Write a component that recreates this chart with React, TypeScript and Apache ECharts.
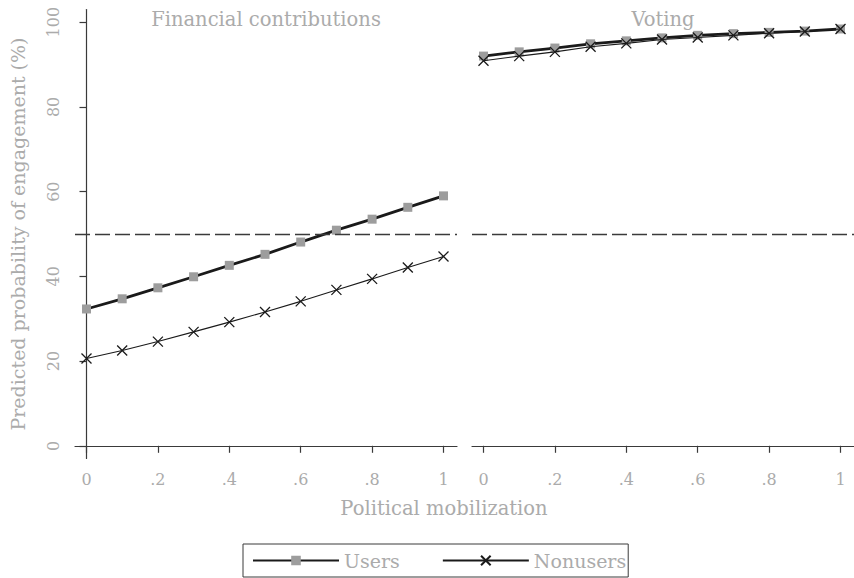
import React, { useEffect, useRef } from "react";
import * as echarts from "echarts";

const xValues = [0, 0.1, 0.2, 0.3, 0.4, 0.5, 0.6, 0.7, 0.8, 0.9, 1];
const finUsers = [32.3, 34.7, 37.3, 39.9, 42.6, 45.2, 48.1, 50.9, 53.5, 56.3, 59.0];
const finNonusers = [20.6, 22.5, 24.6, 26.9, 29.2, 31.6, 34.1, 36.8, 39.4, 42.1, 44.7];
const voteUsers = [92.0, 93.0, 93.9, 94.9, 95.6, 96.3, 96.9, 97.3, 97.6, 97.9, 98.4];
const voteNonusers = [90.9, 92.0, 93.0, 94.2, 95.0, 95.9, 96.4, 96.9, 97.4, 97.8, 98.4];
const yTicks = [0, 20, 40, 60, 80, 100];
const xTicks = [0, 0.2, 0.4, 0.6, 0.8, 1];
const panelTitles = ["Financial contributions", "Voting"];
const seriesNames = ["Users", "Nonusers"];
const threshold = 50;

const FONT = "DejaVu Serif";
const GRAY = "#ababab";
const DARK = "#3a3a3a";
const CROSS = "path://M0,0L10,10M10,0L0,10";

export default function App() {
  const ref = useRef<HTMLDivElement>(null);
  useEffect(() => {
    if (!ref.current) return;
    const chart = echarts.init(ref.current, undefined, { renderer: "svg" });
    const xFmt = (v: number) => (v === 0 ? "0" : v === 1 ? "1" : String(v).replace("0.", "."));
    const mkX = (gi: number) => ({
      type: "value",
      gridIndex: gi,
      min: -0.0322,
      max: 1.0378,
      splitLine: { show: false },
      axisLine: { show: true, lineStyle: { color: DARK, width: 1.2 } },
      axisTick: { show: true, length: 7, customValues: xTicks, lineStyle: { color: DARK, width: 1.2 } },
      axisLabel: {
        customValues: xTicks,
        formatter: xFmt,
        color: GRAY,
        fontFamily: FONT,
        fontSize: 16,
        margin: 13,
      },
    });
    const mkY = (gi: number) => ({
      type: "value",
      gridIndex: gi,
      min: -3,
      max: 103,
      show: gi === 0,
      splitLine: { show: false },
      axisLine: { show: gi === 0, lineStyle: { color: DARK, width: 1.2 } },
      axisTick: { show: gi === 0, length: 7, customValues: yTicks, lineStyle: { color: DARK, width: 1.2 } },
      axisLabel: {
        show: gi === 0,
        customValues: yTicks,
        rotate: 90,
        color: GRAY,
        fontFamily: FONT,
        fontSize: 16,
        margin: 14,
      },
      name: gi === 0 ? "Predicted probability of engagement (%)" : "",
      nameLocation: "middle",
      nameGap: 48,
      nameTextStyle: { color: GRAY, fontFamily: FONT, fontSize: 19 },
    });
    const markLine = {
      silent: true,
      symbol: "none",
      label: { show: false },
      lineStyle: { type: [15, 5], color: DARK, width: 1.3 },
      data: [{ yAxis: threshold }],
    };
    const usersSeries = (gi: number, vals: number[]) => ({
      name: seriesNames[0],
      type: "line",
      xAxisIndex: gi,
      yAxisIndex: gi,
      data: xValues.map((x, i) => [x, vals[i]]),
      symbol: "rect",
      symbolSize: 9,
      showAllSymbol: true,
      lineStyle: { color: "#1a1a1a", width: 2.8 },
      itemStyle: { color: "#9d9d9d", borderWidth: 0 },
      markLine,
      z: 2,
    });
    const nonSeries = (gi: number, vals: number[]) => ({
      name: seriesNames[1],
      type: "line",
      xAxisIndex: gi,
      yAxisIndex: gi,
      data: xValues.map((x, i) => [x, vals[i]]),
      symbol: CROSS,
      symbolSize: 10,
      showAllSymbol: true,
      lineStyle: { color: "#1a1a1a", width: 1.1 },
      itemStyle: { color: "none", borderColor: "#1a1a1a", borderWidth: 1.3 },
      z: 3,
    });
    const titleFont = `19.5px "${FONT}"`;
    chart.setOption({
      animation: false,
      backgroundColor: "#ffffff",
      grid: [
        { left: 75, top: 9.5, width: 382, height: 449 },
        { left: 472, top: 9.5, width: 382, height: 449 },
      ],
      xAxis: [mkX(0), mkX(1)],
      yAxis: [mkY(0), mkY(1)],
      legend: {
        data: seriesNames,
        left: 243,
        top: 544,
        orient: "horizontal",
        itemWidth: 86,
        itemHeight: 12,
        itemGap: 42,
        itemTextGap: 10,
        padding: [7, 2, 7, 9],
        borderColor: DARK,
        borderWidth: 1,
        textStyle: { color: GRAY, fontFamily: FONT, fontSize: 19 },
      },
      graphic: [
        {
          type: "text",
          x: 266,
          y: 19,
          style: { text: panelTitles[0], fill: GRAY, font: titleFont, textAlign: "center", textVerticalAlign: "middle" },
        },
        {
          type: "text",
          x: 663,
          y: 19,
          style: { text: panelTitles[1], fill: GRAY, font: titleFont, textAlign: "center", textVerticalAlign: "middle" },
        },
        {
          type: "text",
          x: 444,
          y: 508,
          style: { text: "Political mobilization", fill: GRAY, font: titleFont, textAlign: "center", textVerticalAlign: "middle" },
        },
      ],
      series: [
        usersSeries(0, finUsers),
        nonSeries(0, finNonusers),
        usersSeries(1, voteUsers),
        nonSeries(1, voteNonusers),
      ],
    });
    return () => chart.dispose();
  }, []);
  return <div ref={ref} style={{ width: 854, height: 578, position: "absolute", left: 0, top: 0 }} />;
}
